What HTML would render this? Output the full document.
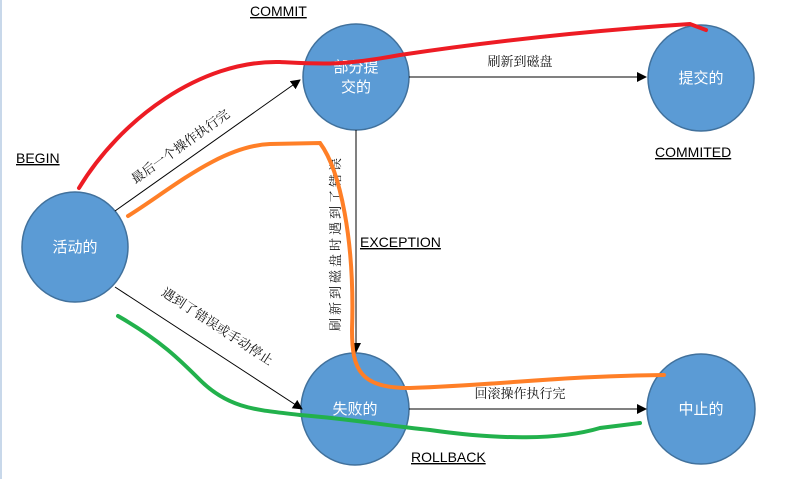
<!DOCTYPE html>
<html><head><meta charset="utf-8"><style>
body{margin:0;background:#fff;}
svg{display:block}
text{font-family:"Liberation Sans","Noto Sans CJK SC",sans-serif;}
.cj{font-family:"Noto Serif CJK SC","Noto Sans CJK SC",serif;font-size:13px;fill:#111}
.lb{font-size:14px;fill:#000;text-decoration:underline}
.nd{fill:#fff;font-size:15px;font-family:"Noto Sans CJK SC",sans-serif}
</style></head><body>
<svg width="791" height="479" viewBox="0 0 791 479">
<defs><marker id="a" markerWidth="10" markerHeight="10" refX="9" refY="5" orient="auto" markerUnits="userSpaceOnUse"><path d="M0,0 L10,5 L0,10z" fill="#000"/></marker></defs>
<rect x="0" y="0" width="2" height="479" fill="#c8d8ea"/>
<g fill="#5b9bd5" stroke="#41719c" stroke-width="1.5">
<ellipse cx="75" cy="247" rx="53" ry="55"/>
<ellipse cx="356" cy="77" rx="53" ry="53"/>
<ellipse cx="701" cy="78" rx="53" ry="53"/>
<ellipse cx="355" cy="409" rx="54" ry="56"/>
<ellipse cx="701" cy="409" rx="54" ry="55"/>
</g>
<g stroke="#000" stroke-width="1" fill="none">
<line x1="115" y1="211" x2="300" y2="80" marker-end="url(#a)"/>
<line x1="409" y1="77" x2="646" y2="77" marker-end="url(#a)"/>
<line x1="356" y1="130" x2="356" y2="352" marker-end="url(#a)"/>
<line x1="115" y1="287" x2="302" y2="409" marker-end="url(#a)"/>
<line x1="409" y1="409" x2="646" y2="409" marker-end="url(#a)"/>
</g>
<text class="nd" x="356" y="72" text-anchor="middle">部分提</text>
<text class="nd" x="356" y="92" text-anchor="middle">交的</text>
<text class="nd" x="701" y="83" text-anchor="middle">提交的</text>
<text class="nd" x="75" y="252" text-anchor="middle">活动的</text>
<text class="nd" x="355" y="414" text-anchor="middle">失败的</text>
<text class="nd" x="701" y="414" text-anchor="middle">中止的</text>
<text class="lb" x="250" y="16">COMMIT</text>
<text class="lb" x="16" y="163">BEGIN</text>
<text class="lb" x="655" y="157">COMMITED</text>
<text class="lb" x="360" y="247">EXCEPTION</text>
<text class="lb" x="411" y="462">ROLLBACK</text>
<text class="cj" x="520" y="66" text-anchor="middle">刷新到磁盘</text>
<text class="cj" x="520" y="398" text-anchor="middle">回滚操作执行完</text>
<text class="cj" transform="translate(183,150) rotate(-35.5)" text-anchor="middle">最后一个操作执行完</text>
<text class="cj" transform="translate(215,330) rotate(33)" text-anchor="middle">遇到了错误或手动停止</text>
<text class="cj" transform="translate(340,243) rotate(-90)" text-anchor="middle" letter-spacing="3">刷新到磁盘时遇到了错误</text>
<g fill="none" stroke-width="4" stroke-linecap="round">
<path d="M79,188 C120,120 200,60 280,62 C320,64 340,66 400,55 C500,40 600,30 690,24 L706,30" stroke="#ed1c24"/>
<path d="M128,216 C170,190 220,146 270,144 L320,143 C340,170 355,240 352,330 C352,370 360,388 410,388 C500,385 560,376 664,375" stroke="#ff7f27"/>
<path d="M118,316 C160,340 180,360 200,380 C230,410 260,410 300,415 C360,420 380,425 430,430 C500,440 560,440 600,428 L640,423" stroke="#22b14c"/>
</g>
</svg>
</body></html>
